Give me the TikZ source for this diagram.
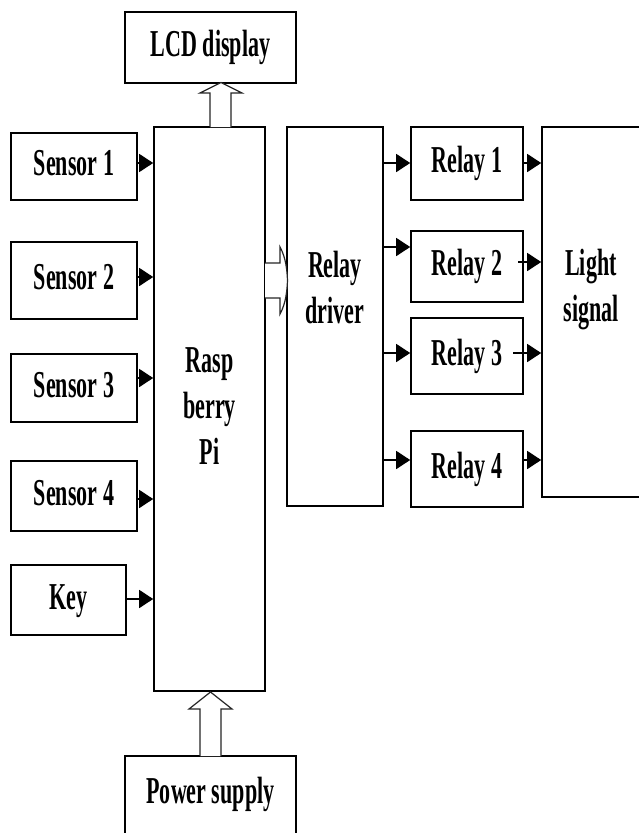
\documentclass[tikz,border=0pt]{standalone}
\usepackage{fontspec}
\setmainfont{Liberation Serif}
\usepackage{graphicx}
\usetikzlibrary{arrows.meta}
\newcommand\lbl[1]{\scalebox{0.58}[1]{\begin{tabular}{@{}c@{}}#1\end{tabular}}}
\begin{document}
\begin{tikzpicture}[x=1pt,y=-1pt,
  box/.style={draw=black, line width=1.6pt, fill=white, inner sep=0pt,
    font=\fontsize{38}{46}\selectfont\bfseries},
  txt/.style={inner sep=0pt, font=\fontsize{38}{46}\selectfont\bfseries},
  arr/.style={line width=1.5pt, -{Triangle[length=14pt,width=18pt]}},
  hollow/.style={draw=black!85, line width=1.2pt, fill=white, line join=miter}]
\useasboundingbox (0,0) rectangle (639,833);
\fill[white] (0,0) rectangle (639,833);

% boxes
\node[box, minimum width=171pt, minimum height=71pt] (lcd) at (210.5,47.5) {\lbl{LCD display}};
\node[box, minimum width=111pt, minimum height=564pt] (rpi) at (209.5,409) {\lbl{Rasp\\berry\\Pi}};
\node[box, minimum width=126pt, minimum height=67pt] (s1) at (74,166.5) {\lbl{Sensor 1}};
\node[box, minimum width=126pt, minimum height=77pt] (s2) at (74,280.5) {\lbl{Sensor 2}};
\node[box, minimum width=126pt, minimum height=68pt] (s3) at (74,388) {\lbl{Sensor 3}};
\node[box, minimum width=126pt, minimum height=70pt] (s4) at (74,496) {\lbl{Sensor 4}};
\node[box, minimum width=115pt, minimum height=70pt] (key) at (68.5,600) {\lbl{Key}};
\node[box, minimum width=96pt, minimum height=379pt] (drv) at (335,316.5) {};
\node[txt] (drvtxt) at (335,291) {\lbl{Relay\\driver}};
\node[box, minimum width=112pt, minimum height=73pt] (r1) at (467,163.5) {\lbl{Relay 1}};
\node[box, minimum width=112pt, minimum height=71pt] (r2) at (467,266.5) {\lbl{Relay 2}};
\node[box, minimum width=112pt, minimum height=76pt] (r3) at (467,356) {\lbl{Relay 3}};
\node[box, minimum width=112pt, minimum height=76pt] (r4) at (467,469) {\lbl{Relay 4}};
\node[box, minimum width=118pt, minimum height=370pt] (light) at (601,312) {};
\node[txt] (lighttxt) at (591,289.5) {\lbl{Light\\signal}};
\node[box, minimum width=171pt, minimum height=94pt] (pwr) at (210.5,803) {};
\node[txt] (pwrtxt) at (210.5,794) {\lbl{Power supply}};

% inputs to Raspberry Pi
\draw[arr] (s1.east |- 0,163) -- (rpi.west |- 0,163);
\draw[arr] (s2.east |- 0,277) -- (rpi.west |- 0,277);
\draw[arr] (s3.east |- 0,378) -- (rpi.west |- 0,378);
\draw[arr] (s4.east |- 0,499) -- (rpi.west |- 0,499);
\draw[arr] (key.east |- 0,599) -- (rpi.west |- 0,599);

% relay driver to relays
\draw[arr] (drv.east |- 0,163) -- (r1.west |- 0,163);
\draw[arr] (drv.east |- 0,247) -- (r2.west |- 0,247);
\draw[arr] (drv.east |- 0,353) -- (r3.west |- 0,353);
\draw[arr] (drv.east |- 0,460) -- (r4.west |- 0,460);

% relays to light signal
\coordinate (r2s) at (518,262);
\coordinate (r3s) at (513,353);
\draw[arr] (r1.east |- 0,163) -- (light.west |- 0,163);
\draw[arr] (r2s) -- (light.west |- r2s);
\draw[arr] (r3s) -- (light.west |- r3s);
\draw[arr] (r4.east |- 0,460) -- (light.west |- 0,460);

% hollow arrows
\draw[hollow] (210,127) -- (210,93) -- (200,93) -- (221,82.5) -- (242,93) -- (231,93) -- (231,127);
\draw[hollow] (265,263) -- (280,263) -- (280,247) .. controls (286,258) and (287,270) .. (287.5,280.5)
  .. controls (287,291) and (286,303) .. (280,314) -- (280,298) -- (265,298);
\draw[hollow] (200,756) -- (200,709) -- (189,709) -- (210.5,692) -- (232,709) -- (221,709) -- (221,756);
\end{tikzpicture}
\end{document}
